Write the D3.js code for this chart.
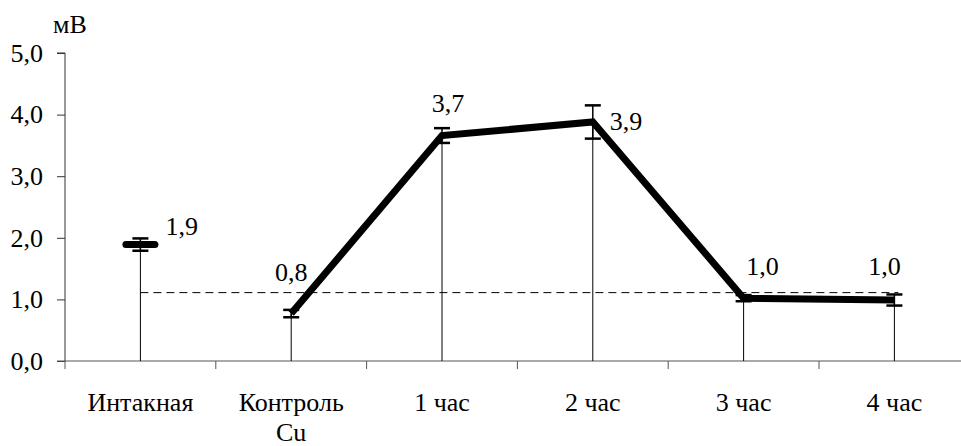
<!DOCTYPE html>
<html>
<head>
<meta charset="utf-8">
<script src="https://cdn.jsdelivr.net/npm/d3@7"></script>
<style>
  html, body { margin: 0; padding: 0; background: #fff; }
  svg { display: block; }
</style>
</head>
<body>
<svg id="chart" width="961" height="446"></svg>
<script>
// Measured biopotential (mV) by group / time after exposure
const categories = ["Интакная", "Контроль Cu", "1 час", "2 час", "3 час", "4 час"];
const values     = [1.89, 0.77, 3.66, 3.88, 1.02, 0.99];
const errors     = [0.10, 0.06, 0.12, 0.27, 0.05, 0.09];
const yTicks     = [0, 1, 2, 3, 4, 5];
const referenceLevel = 1.11;   // dashed baseline level
const unitLabel  = "мВ";

// Label placement for each point value: [anchor, dx, dy]
const labelPlacement = [
  ["start", 25, -10],
  ["middle", 0, -33],
  ["middle", 6, -24],
  ["start", 17, 8],
  ["middle", 19, -23],
  ["middle", -10, -25]
];

const FONT = '"Liberation Serif", "Times New Roman", serif';
const fontSize = 26;

const svg = d3.select("#chart");

const x = d3.scaleBand()
  .domain(categories)
  .range([65, 65 + 150.8 * categories.length])
  .padding(0);

const y = d3.scaleLinear()
  .domain([0, 5])
  .range([361, 53]);

const fmt = v => d3.format(".1f")(v).replace(".", ",");
const cx = i => x(categories[i]) + x.bandwidth() / 2;

const label = sel => sel.style("font-family", FONT).style("font-size", fontSize + "px").attr("fill", "#000");

// Y axis
const yAxis = svg.append("g")
  .attr("transform", "translate(65,0)")
  .call(d3.axisLeft(y).tickValues(yTicks).tickSize(8).tickPadding(14).tickFormat(fmt));
yAxis.attr("font-family", null).attr("font-size", null);
yAxis.select(".domain").attr("stroke", "#333").attr("d", `M-8,${y(5)}H0V${y(0)}`);
yAxis.selectAll(".tick line").attr("stroke", "#333");
yAxis.selectAll("text").call(label);

// X axis: ticks on category boundaries, pointing down
const boundaries = categories.map(c => x(c)).concat([x.range()[1]]);
const xAxisG = svg.append("g").attr("transform", `translate(0,${y(0)})`);
xAxisG.append("line")
  .attr("x1", 57).attr("x2", 961)
  .attr("stroke", "#555").attr("stroke-width", 1);
xAxisG.selectAll("line.bt")
  .data(boundaries.filter(b => b < 961))
  .enter().append("line")
  .attr("class", "bt")
  .attr("x1", d => d).attr("x2", d => d)
  .attr("y1", 0).attr("y2", 8)
  .attr("stroke", "#555");

// Category labels (two-line control label)
categories.forEach((c, i) => {
  const lines = c === "Контроль Cu" ? ["Контроль", "Cu"] : [c];
  const t = svg.append("text")
    .attr("x", cx(i))
    .attr("y", 411)
    .attr("text-anchor", "middle")
    .call(label);
  lines.forEach((ln, k) => {
    t.append("tspan").attr("x", cx(i)).attr("dy", k === 0 ? 0 : 30).text(ln);
  });
});

// Unit label
svg.append("text")
  .attr("x", 53).attr("y", 33)
  .call(label)
  .text(unitLabel);

// Dashed reference line
svg.append("line")
  .attr("x1", cx(0)).attr("x2", cx(5) + 4)
  .attr("y1", y(referenceLevel)).attr("y2", y(referenceLevel))
  .attr("stroke", "#000").attr("stroke-width", 1)
  .attr("stroke-dasharray", "8,5");

// Drop lines from each point to the axis
svg.selectAll("line.drop")
  .data(values)
  .enter().append("line")
  .attr("class", "drop")
  .attr("x1", (d, i) => cx(i)).attr("x2", (d, i) => cx(i))
  .attr("y1", d => y(d)).attr("y2", y(0))
  .attr("stroke", "#000").attr("stroke-width", 1);

// Main series line (control through 4 h)
const lineGen = d3.line()
  .x(d => cx(d.i))
  .y(d => y(d.v));
const seriesPts = values.map((v, i) => ({ v, i })).slice(1);
svg.append("path")
  .attr("d", lineGen(seriesPts))
  .attr("fill", "none")
  .attr("stroke", "#000")
  .attr("stroke-width", 7)
  .attr("stroke-linejoin", "miter");

// Intact group marker: short thick dash
svg.append("line")
  .attr("x1", cx(0) - 14.5).attr("x2", cx(0) + 14.5)
  .attr("y1", y(values[0])).attr("y2", y(values[0]))
  .attr("stroke", "#000").attr("stroke-width", 7)
  .attr("stroke-linecap", "round");

// Error bars
const eb = svg.selectAll("g.err")
  .data(values.map((v, i) => ({ v, e: errors[i], i })))
  .enter().append("g").attr("class", "err");
eb.append("line")
  .attr("x1", d => cx(d.i)).attr("x2", d => cx(d.i))
  .attr("y1", d => y(d.v + d.e)).attr("y2", d => y(d.v - d.e))
  .attr("stroke", "#000").attr("stroke-width", 1.5);
[1, -1].forEach(s => {
  eb.append("line")
    .attr("x1", d => cx(d.i) - 8).attr("x2", d => cx(d.i) + 8)
    .attr("y1", d => y(d.v + s * d.e)).attr("y2", d => y(d.v + s * d.e))
    .attr("stroke", "#000").attr("stroke-width", 2.5);
});

// Value labels
svg.selectAll("text.val")
  .data(values)
  .enter().append("text")
  .attr("class", "val")
  .attr("x", (d, i) => cx(i) + labelPlacement[i][1])
  .attr("y", (d, i) => y(d) + labelPlacement[i][2])
  .attr("text-anchor", (d, i) => labelPlacement[i][0])
  .call(label)
  .text(d => fmt(d));
</script>
</body>
</html>
